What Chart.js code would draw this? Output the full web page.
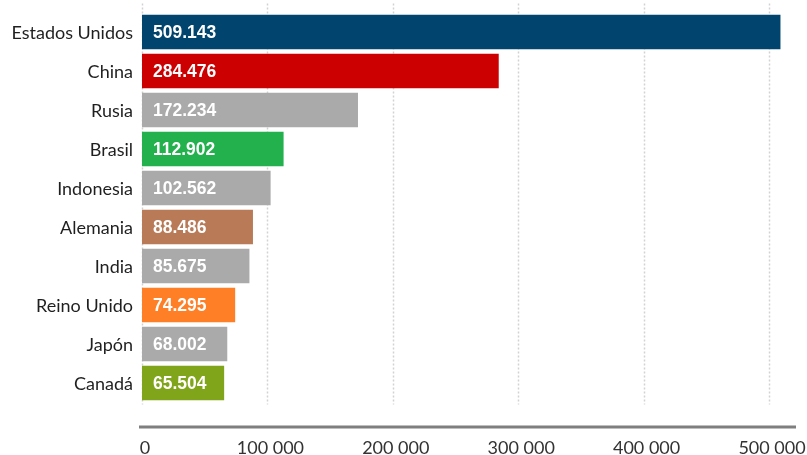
<!DOCTYPE html>
<html>
<head>
<meta charset="utf-8">
<script src="https://cdn.jsdelivr.net/npm/chart.js@4"></script>
<style>
  html, body { margin: 0; padding: 0; background: #ffffff; }
  #wrap { width: 807px; height: 455px; }
</style>
</head>
<body>
<div id="wrap"><canvas id="c" width="807" height="455"></canvas></div>
<script>
const categories = ["Estados Unidos", "China", "Rusia", "Brasil", "Indonesia", "Alemania", "India", "Reino Unido", "Japón", "Canadá"];
const values = [509143, 284476, 172234, 112902, 102562, 88486, 85675, 74295, 68002, 65504];
const barColors = ["#01456f", "#cc0000", "#aaaaaa", "#22b14c", "#aaaaaa", "#b97a57", "#aaaaaa", "#ff7f27", "#aaaaaa", "#80a51a"];
const xTicks = [0, 100000, 200000, 300000, 400000, 500000];
const xTickLabels = ["0", "100 000", "200 000", "300 000", "400 000", "500 000"];

function fmtValue(v) {
  return String(v).replace(/\B(?=(\d{3})+(?!\d))/g, ".");
}

const decorPlugin = {
  id: "decor",
  beforeDatasetsDraw(chart) {
    const { ctx, chartArea, scales } = chart;
    const x = scales.x, y = scales.y;
    ctx.save();
    // dotted vertical grid
    ctx.strokeStyle = "#d2d2d2";
    ctx.lineWidth = 1.5;
    ctx.setLineDash([2, 2]);
    xTicks.forEach(t => {
      const px = Math.round(x.getPixelForValue(t)) + 0.5;
      ctx.beginPath();
      ctx.moveTo(px, chartArea.top - 9);
      ctx.lineTo(px, chartArea.bottom + 2);
      ctx.stroke();
    });
    ctx.setLineDash([]);
    // axis line below plot
    ctx.strokeStyle = "#7f7f7f";
    ctx.lineWidth = 3;
    const ly = chartArea.bottom + 24.5;
    ctx.beginPath();
    ctx.moveTo(x.getPixelForValue(0) - 3, ly);
    ctx.lineTo(x.getPixelForValue(xTicks[xTicks.length - 1]) + 27, ly);
    ctx.stroke();
    // x tick labels
    ctx.fillStyle = "#333333";
    ctx.font = "18px Lato";
    ctx.textAlign = "center";
    ctx.textBaseline = "middle";
    xTicks.forEach((t, i) => {
      ctx.fillText(xTickLabels[i], x.getPixelForValue(t) + 3, chartArea.bottom + 45.5);
    });
    // category labels
    ctx.fillStyle = "#1f1f1f";
    ctx.textAlign = "right";
    categories.forEach((c, i) => {
      ctx.fillText(c, x.getPixelForValue(0) - 9, y.getPixelForValue(i) + 1);
    });
    ctx.restore();
  },
  afterDatasetsDraw(chart) {
    const { ctx } = chart;
    const meta = chart.getDatasetMeta(0);
    ctx.save();
    ctx.fillStyle = "#ffffff";
    ctx.font = "bold 17.5px 'Liberation Sans', Arial, sans-serif";
    ctx.textAlign = "left";
    ctx.textBaseline = "middle";
    meta.data.forEach((bar, i) => {
      ctx.fillText(fmtValue(values[i]), bar.base + 11, bar.y + 1);
    });
    ctx.restore();
  }
};

new Chart(document.getElementById("c"), {
  type: "bar",
  data: {
    labels: categories,
    datasets: [{
      data: values,
      backgroundColor: barColors,
      borderWidth: 0,
      barPercentage: 0.88,
      categoryPercentage: 1.0,
      clip: false
    }]
  },
  options: {
    indexAxis: "y",
    responsive: false,
    animation: false,
    devicePixelRatio: 1,
    layout: { padding: { top: 12.5, right: 38, bottom: 0, left: 0 } },
    plugins: {
      legend: { display: false },
      tooltip: { enabled: false }
    },
    scales: {
      x: {
        min: 0,
        max: 500000,
        afterFit(scale) { scale.height = 52.5; },
        grid: { display: false },
        border: { display: false },
        ticks: { display: false }
      },
      y: {
        afterFit(scale) { scale.width = 142; },
        grid: { display: false },
        border: { display: false },
        ticks: { display: false }
      }
    }
  },
  plugins: [decorPlugin]
});
</script>
</body>
</html>
